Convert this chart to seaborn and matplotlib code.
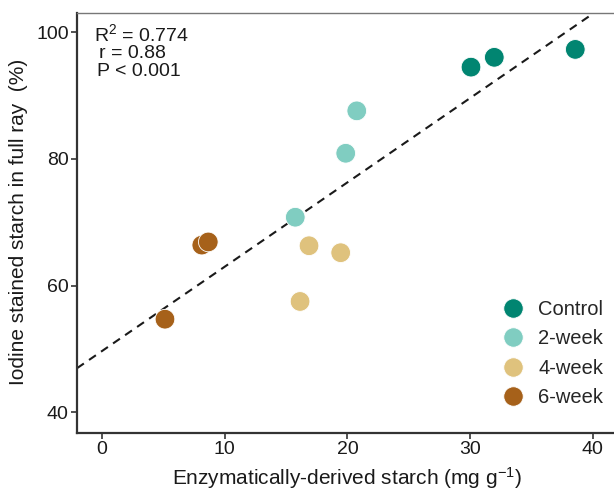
import numpy as np
import pandas as pd
import matplotlib
matplotlib.use("Agg")
import matplotlib.pyplot as plt
import seaborn as sns

groups = ["Control", "Control", "Control",
          "2-week", "2-week", "2-week",
          "4-week", "4-week", "4-week",
          "6-week", "6-week", "6-week"]
enzymatic_starch = [30.07, 31.97, 38.57, 20.76, 19.86, 15.75,
                    16.87, 19.45, 16.14, 8.13, 8.66, 5.13]
iodine_starch = [94.5, 96.05, 97.3, 87.6, 80.9, 70.8,
                 66.3, 65.2, 57.5, 66.4, 66.9, 54.7]
group_order = ["Control", "2-week", "4-week", "6-week"]
group_colors = ["#018571", "#80cdc1", "#dfc27d", "#a6611a"]
x_ticks = [0, 10, 20, 30, 40]
y_ticks = [40, 60, 80, 100]

df = pd.DataFrame({"x": enzymatic_starch, "y": iodine_starch, "group": groups})

sns.set_theme(style="white")
plt.rcParams["font.family"] = ["Liberation Sans", "DejaVu Sans"]
plt.rcParams["mathtext.fontset"] = "custom"
plt.rcParams["mathtext.rm"] = "Liberation Sans"
plt.rcParams["mathtext.it"] = "Liberation Sans:italic"
plt.rcParams["mathtext.default"] = "regular"

W, H = 614, 491
fig = plt.figure(figsize=(W/100, H/100), dpi=100)
ax = fig.add_axes([77/W, 58/H, (617-77)/W, (433-13)/H])

xlim = (-2.04, 41.97)
ylim = (36.73, 103.05)

slope, intercept = np.polyfit(df["x"], df["y"], 1)
xx = np.array(xlim)
ax.plot(xx, slope*xx + intercept, color="#1a1a1a", lw=1.5,
        dashes=(4, 3), zorder=1)

sns.scatterplot(data=df, x="x", y="y", hue="group", hue_order=group_order,
                palette=group_colors, s=200, edgecolor="white", linewidth=0.6,
                ax=ax, zorder=3)

ax.set_xlim(*xlim)
ax.set_ylim(*ylim)
ax.set_xticks(x_ticks)
ax.set_yticks(y_ticks)
ax.tick_params(axis="both", labelsize=14, length=4, width=1.2,
               color="#333333", labelcolor="#1a1a1a", pad=2, direction="out")
ax.tick_params(bottom=True, left=True)

for side in ["left", "bottom"]:
    ax.spines[side].set_color("#333333")
    ax.spines[side].set_linewidth(1.6)
ax.spines["top"].set_color("#777777")
ax.spines["top"].set_linewidth(1.0)
ax.spines["right"].set_visible(False)

ax.set_xlabel("")
ax.set_ylabel("")
fig.text(347/W, 1 - 485/H, "Enzymatically-derived starch (mg g$^{-1}$)",
         ha="center", va="baseline", fontsize=15, color="#1a1a1a")
fig.text(19/W, 1 - 222/H, "Iodine stained starch in full ray  (%)",
         rotation=90, ha="center", va="center", fontsize=15, color="#1a1a1a")

fig.text(94/W, 1 - 41/H, "R$^2$ = 0.774", ha="left", va="baseline",
         fontsize=14, color="#1a1a1a")
fig.text(99/W, 1 - 58/H, "r = 0.88", ha="left", va="baseline",
         fontsize=14, color="#1a1a1a")
fig.text(97/W, 1 - 76/H, "P < 0.001", ha="left", va="baseline",
         fontsize=14, color="#1a1a1a")

leg = ax.legend(loc="upper left", frameon=False, fontsize=14.5,
                handlelength=1.0, handletextpad=0.75, labelspacing=0.52,
                borderpad=0.0, borderaxespad=0.0)
leg.set_bbox_to_anchor((503/W, 1 - 300/H), transform=fig.transFigure)
for h in leg.legend_handles:
    h.set_markersize(14)
    h.set_markeredgecolor("white")

fig.savefig("out.png", dpi=100)
